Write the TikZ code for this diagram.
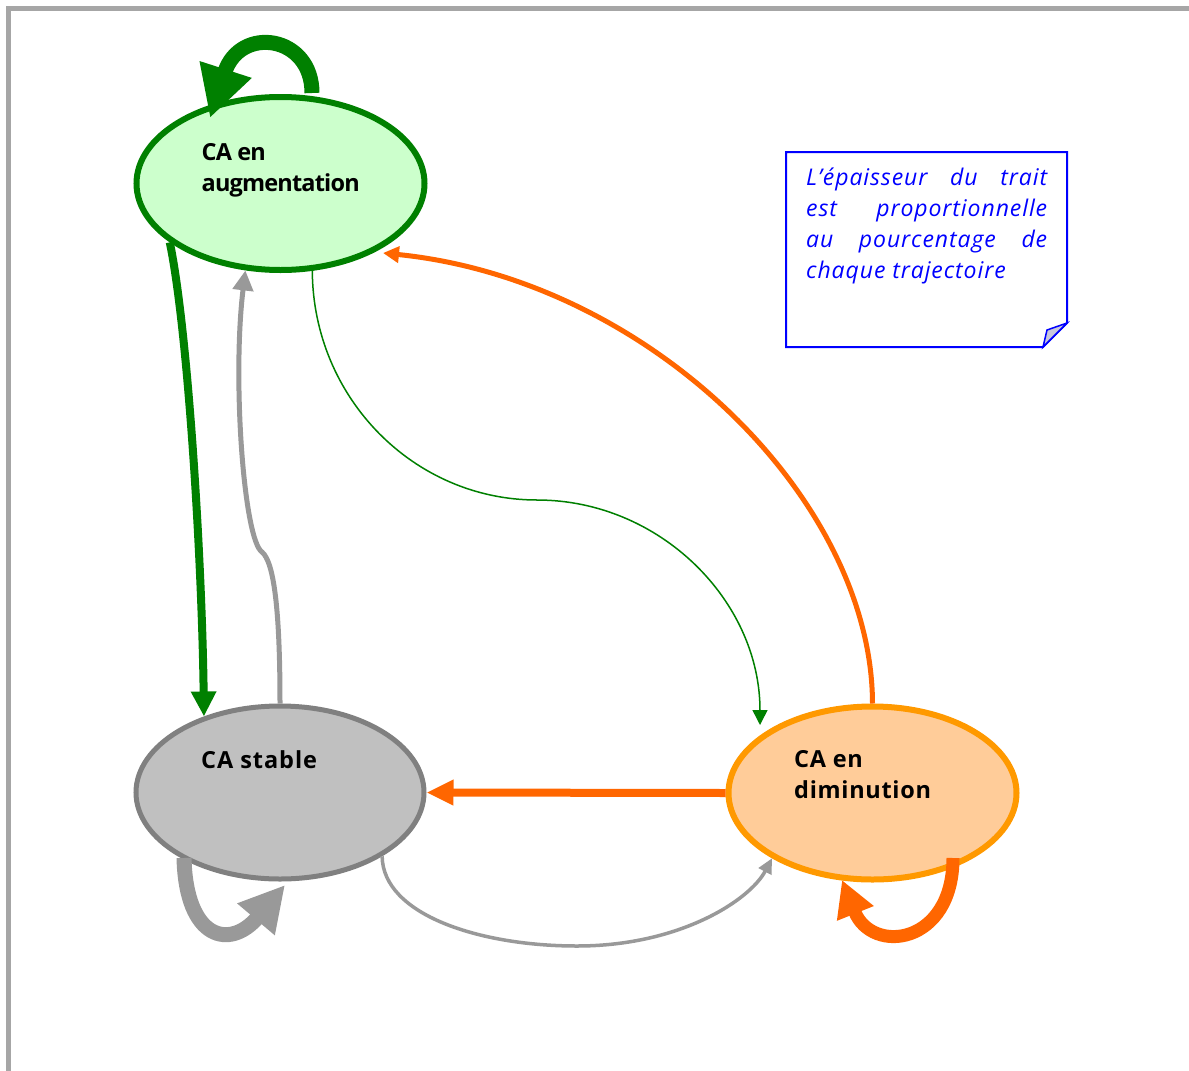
\documentclass[tikz,border=0pt]{standalone}
\usepackage{fontspec}
\setmainfont{Open Sans}
\usetikzlibrary{arrows.meta,calc,shapes.geometric}
\definecolor{cgreen}{HTML}{008000}
\definecolor{clgreen}{HTML}{CCFFCC}
\definecolor{cgrayfill}{HTML}{C0C0C0}
\definecolor{cgrayline}{HTML}{808080}
\definecolor{carrgray}{HTML}{999999}
\definecolor{corange}{HTML}{FF6600}
\definecolor{cborder}{HTML}{FF9900}
\definecolor{cpeach}{HTML}{FFCC99}
\definecolor{cframe}{HTML}{A6A6A6}
\definecolor{cfold}{HTML}{C8C8DC}
\begin{document}
\begin{tikzpicture}[x=1pt,y=-1pt,
  state/.style={ellipse, minimum width=288pt, minimum height=173pt, line width=5pt, inner sep=0pt},
  lab/.style={anchor=base west, inner sep=0pt, font=\bfseries\fontsize{23.5}{31}\selectfont},
  notetxt/.style={anchor=base west, inner sep=0pt, text=blue, font=\itshape\fontsize{23}{31}\selectfont}]
\useasboundingbox (0,0) rectangle (1189,1071);
\fill[white] (0,0) rectangle (1189,1071);
\draw[cframe, line width=5pt] (8.5,1080) -- (8.5,8.5) -- (1200,8.5);

% states
\node[state, draw=cgreen, fill=clgreen, line width=6pt] (aug) at (280.5,183.5) {};
\node[state, draw=cgrayline, fill=cgrayfill] (stab) at (280,792.5) {};
\node[state, draw=cborder, fill=cpeach, line width=6pt] (dim) at (872.5,793) {};

% self loops
\draw[cgreen, line width=15pt, -{Triangle[length=51pt,width=51pt]}]
  ($(aug.center)+(31.5,-90.5)$) .. controls (312,35) and (240,25) .. ($(aug.center)+(-70.5,-65.5)$);
\draw[carrgray, line width=15pt, -{Triangle[length=45pt,width=46pt]}]
  ($(stab.center)+(-96,65.5)$) .. controls (186,940) and (230,950) .. ($(stab.center)+(5,92.5)$);
\draw[corange, line width=13pt, -{Triangle[length=36pt,width=37pt]}]
  ($(dim.center)+(80.5,65)$) .. controls (953,945) and (872,955) .. ($(dim.center)+(-30.5,87)$);

% transitions
\draw[cgreen, line width=8pt, -{Triangle[length=25pt,width=24pt]}]
  (aug.208) .. controls (188,330) and (202,560) .. (stab.135);
\draw[carrgray, line width=5pt, -{Triangle[length=20pt,width=20pt]}]
  (stab.90) .. controls (280,610) and (274,562) .. (262,552) .. controls (244,540) and (232,380) .. (aug.248);
\draw[cgreen, line width=1.5pt, -{Triangle[length=15pt,width=15pt]}]
  (aug.-70) .. controls (313,398) and (414,500) .. (537,500) .. controls (660,500) and (760,601) .. ($(dim.center)+(-112.5,-68)$);
\draw[corange, line width=5pt, -{Triangle[length=16pt,width=16pt]}]
  (dim.90) .. controls (872,500) and (650,280) .. ($(aug.center)+(102.5,69.5)$);
\draw[corange, line width=8pt, -{Triangle[length=27pt,width=24pt]}]
  (dim.180) -- (stab.0);
\draw[carrgray, line width=3.5pt, -{Triangle[length=15pt,width=14pt]}]
  (stab.-32) .. controls (383,915) and (480,946) .. (577,946) .. controls (680,946) and (750,900) .. (dim.213);

% labels
\node[lab] (augl) at ($(aug.center)+(-79,-23)$) {\addfontfeature{LetterSpace=-3.5}\parbox[t]{200pt}{CA en\\augmentation}};
\node[lab] (stabl) at ($(stab.center)+(-79,-24.5)$) {\addfontfeature{LetterSpace=4}\parbox[t]{200pt}{CA stable}};
\node[lab] (diml) at ($(dim.center)+(-78.5,-26)$) {\addfontfeature{LetterSpace=3}\parbox[t]{200pt}{CA en\\diminution}};

% note
\draw[blue, line width=2pt, fill=white] (786,152) -- (1067,152) -- (1067,323) -- (1043,347) -- (786,347) -- cycle;
\draw[blue, line width=1.5pt, fill=cfold] (1067,323) -- (1047,330) -- (1043,347) -- cycle;
\node[notetxt] (note) at (806,185) {\addfontfeature{LetterSpace=4}\parbox[t]{241pt}{\hyphenpenalty=10000 L’épaisseur du trait\linebreak est proportionnelle\linebreak au pourcentage de\linebreak chaque trajectoire}};
\end{tikzpicture}
\end{document}
